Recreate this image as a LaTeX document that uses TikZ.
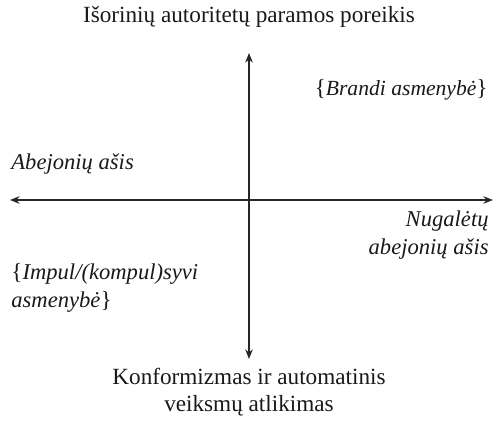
\documentclass[tikz,border=0pt]{standalone}
\usepackage{fontspec}
\setmainfont{Liberation Serif}
\usetikzlibrary{arrows.meta}
\begin{document}
\begin{tikzpicture}[x=0.5pt,y=-0.5pt,
  axis/.style={draw=black!85, line width=0.55pt, {Stealth[length=4.8pt,width=3.8pt]}-{Stealth[length=4.8pt,width=3.8pt]}},
  lbl/.style={inner sep=0pt, font=\fontsize{11.6pt}{13.8pt}\selectfont, text=black!90},
  ilbl/.style={lbl, font=\fontsize{11.3pt}{13.8pt}\selectfont\itshape}]
\useasboundingbox (0,0) rectangle (499,422);
\coordinate (top) at (249,53);
\coordinate (bot) at (249,359);
\coordinate (left) at (10,200);
\coordinate (right) at (493,200);
\draw[axis] (bot) -- (top);
\draw[axis] (left) -- (right);
\node[lbl] (title) at (249,17) {Išorinių autoritetų paramos poreikis};
\node[lbl, anchor=east] (brandi) at (488,90) {\{\textit{\fontsize{10.8pt}{13.8pt}\selectfont Brandi asmenybė}\}};
\node[ilbl, anchor=west] (abej) at (11,164) {Abejonių ašis};
\node[ilbl, anchor=east, align=right] (nug) at (489,235) {Nugalėtų\\abejonių ašis};
\node[lbl, anchor=west, align=left] (imp) at (11,288) {\{\textit{\fontsize{11.3pt}{13.8pt}\selectfont Impul/(kompul)syvi}\\\textit{\fontsize{11.3pt}{13.8pt}\selectfont asmenybė}\}};
\node[lbl, align=center] (konf) at (249,392) {Konformizmas ir automatinis\\veiksmų atlikimas};
\end{tikzpicture}
\end{document}
